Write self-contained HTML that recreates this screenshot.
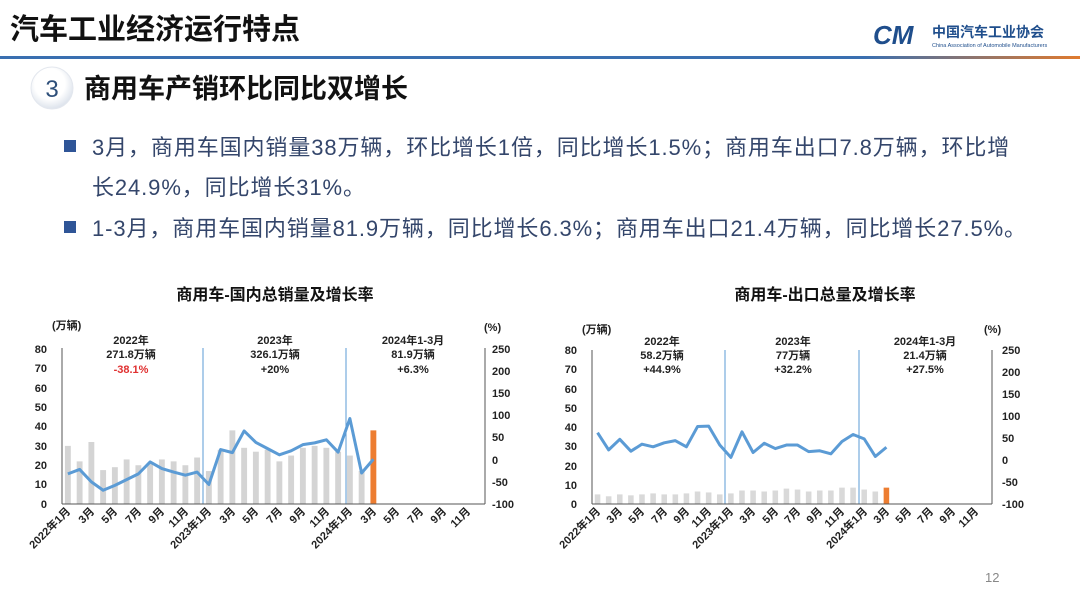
<!DOCTYPE html>
<html><head><meta charset="utf-8"><style>
body{margin:0;width:1080px;height:604px;background:#fff;overflow:hidden;font-family:"Liberation Sans","Noto Sans CJK SC",sans-serif;}
svg{display:block}
</style></head><body>
<svg width="1080" height="604" viewBox="0 0 1080 604" xmlns="http://www.w3.org/2000/svg" font-family="Liberation Sans, Noto Sans CJK SC, sans-serif">
<defs>
<linearGradient id="hl" x1="0" x2="1"><stop offset="0" stop-color="#3a6fb0"/><stop offset="0.8" stop-color="#3a6fb0"/><stop offset="1" stop-color="#e07a2e"/></linearGradient>
<radialGradient id="cg" cx="0.45" cy="0.4" r="0.6"><stop offset="0.6" stop-color="#fff"/><stop offset="1" stop-color="#dde3ec"/></radialGradient>
</defs>
<!-- header -->
<text x="10" y="39" font-size="29" font-weight="bold" fill="#111">汽车工业经济运行特点</text>
<rect x="0" y="56" width="1080" height="3" fill="url(#hl)"/>
<text x="873" y="44" font-size="26" font-weight="bold" fill="#1f4e8c" font-style="italic">CM</text>
<text x="932" y="37" font-size="14" font-weight="bold" fill="#1f4e8c">中国汽车工业协会</text>
<text x="932" y="47" font-size="5.5" fill="#1f4e8c">China Association of Automobile Manufacturers</text>
<circle cx="52" cy="88" r="21" fill="url(#cg)" stroke="#e3e7ee"/>
<text x="52" y="97" font-size="24" text-anchor="middle" fill="#2e4f7a">3</text>
<text x="84" y="98" font-size="27" font-weight="bold" fill="#111">商用车产销环比同比双增长</text>
<!-- bullets -->
<g font-size="22" fill="#34466b" letter-spacing="0.9">
<rect x="64" y="140" width="12" height="12" fill="#2f5597"/>
<text x="92" y="155">3月，商用车国内销量38万辆，环比增长1倍，同比增长1.5%；商用车出口7.8万辆，环比增</text>
<text x="92" y="195">长24.9%，同比增长31%。</text>
<rect x="64" y="221" width="12" height="12" fill="#2f5597"/>
<text x="92" y="236">1-3月，商用车国内销量81.9万辆，同比增长6.3%；商用车出口21.4万辆，同比增长27.5%。</text>
</g>
<text x="275" y="300" font-size="16" font-weight="bold" text-anchor="middle" fill="#111">商用车-国内总销量及增长率</text>
<text x="825" y="300" font-size="16" font-weight="bold" text-anchor="middle" fill="#111">商用车-出口总量及增长率</text>
<text x="985" y="582" font-size="13" fill="#888">12</text>

<!-- LEFT CHART -->
<g font-size="11" font-weight="bold" fill="#222">
<text x="52" y="329">(万辆)</text><text x="484" y="331">(%)</text>
<g text-anchor="end"><text x="47" y="353">80</text><text x="47" y="372">70</text><text x="47" y="392">60</text><text x="47" y="411">50</text><text x="47" y="430">40</text><text x="47" y="450">30</text><text x="47" y="469">20</text><text x="47" y="488">10</text><text x="47" y="508">0</text></g>
<g><text x="492" y="353">250</text><text x="492" y="375">200</text><text x="492" y="397">150</text><text x="492" y="419">100</text><text x="492" y="441">50</text><text x="492" y="464">0</text><text x="492" y="486">-50</text><text x="492" y="508">-100</text></g>
<g text-anchor="middle"><text x="131" y="344">2022年</text><text x="131" y="358">271.8万辆</text><text x="131" y="373" fill="#e03030">-38.1%</text>
<text x="275" y="344">2023年</text><text x="275" y="358">326.1万辆</text><text x="275" y="373">+20%</text>
<text x="413" y="344">2024年1-3月</text><text x="413" y="358">81.9万辆</text><text x="413" y="373">+6.3%</text></g>
</g>
<g transform="translate(62,504) scale(11.75,-1.9375)" fill="#d4d4d4">
<rect x="0.25" width="0.5" height="30"/><rect x="1.25" width="0.5" height="22"/><rect x="2.25" width="0.5" height="32"/><rect x="3.25" width="0.5" height="17.5"/><rect x="4.25" width="0.5" height="19"/><rect x="5.25" width="0.5" height="23"/><rect x="6.25" width="0.5" height="20"/><rect x="7.25" width="0.5" height="21"/><rect x="8.25" width="0.5" height="23"/><rect x="9.25" width="0.5" height="22"/><rect x="10.25" width="0.5" height="20"/><rect x="11.25" width="0.5" height="24"/>
<rect x="12.25" width="0.5" height="17"/><rect x="13.25" width="0.5" height="28"/><rect x="14.25" width="0.5" height="38"/><rect x="15.25" width="0.5" height="29"/><rect x="16.25" width="0.5" height="27"/><rect x="17.25" width="0.5" height="28"/><rect x="18.25" width="0.5" height="22"/><rect x="19.25" width="0.5" height="25"/><rect x="20.25" width="0.5" height="29"/><rect x="21.25" width="0.5" height="30"/><rect x="22.25" width="0.5" height="29"/><rect x="23.25" width="0.5" height="27"/>
<rect x="24.25" width="0.5" height="25"/><rect x="25.25" width="0.5" height="17"/><rect x="26.25" width="0.5" height="38" fill="#ed7d31"/>
</g>
<g stroke-width="1">
<line x1="203" y1="348" x2="203" y2="504" stroke="#5b9bd5"/><line x1="346" y1="348" x2="346" y2="504" stroke="#5b9bd5"/>
<line x1="62" y1="348" x2="62" y2="504" stroke="#555"/><line x1="62" y1="504" x2="485" y2="504" stroke="#555"/><line x1="485" y1="348" x2="485" y2="504" stroke="#555"/>
</g>
<g transform="translate(62,504) scale(11.75,-0.4429) translate(0,100)">
<polyline fill="none" stroke="#5b9bd5" stroke-width="3" vector-effect="non-scaling-stroke" stroke-linejoin="round" points="0.5,-32 1.5,-22 2.5,-50 3.5,-69 4.5,-58 5.5,-45 6.5,-32 7.5,-5 8.5,-20 9.5,-28 10.5,-35 11.5,-28 12.5,-56 13.5,23 14.5,16 15.5,65 16.5,39 17.5,25 18.5,11 19.5,20 20.5,34 21.5,38 22.5,45 23.5,17 24.5,93 25.5,-30 26.5,1"/>
</g>
<g font-size="11" font-weight="bold" fill="#222" text-anchor="end">
<text transform="translate(71,512) rotate(-45)">2022年1月</text><text transform="translate(95,512) rotate(-45)">3月</text><text transform="translate(118,512) rotate(-45)">5月</text><text transform="translate(142,512) rotate(-45)">7月</text><text transform="translate(165,512) rotate(-45)">9月</text><text transform="translate(189,512) rotate(-45)">11月</text>
<text transform="translate(212,512) rotate(-45)">2023年1月</text><text transform="translate(236,512) rotate(-45)">3月</text><text transform="translate(259,512) rotate(-45)">5月</text><text transform="translate(283,512) rotate(-45)">7月</text><text transform="translate(306,512) rotate(-45)">9月</text><text transform="translate(330,512) rotate(-45)">11月</text>
<text transform="translate(353,512) rotate(-45)">2024年1月</text><text transform="translate(377,512) rotate(-45)">3月</text><text transform="translate(400,512) rotate(-45)">5月</text><text transform="translate(424,512) rotate(-45)">7月</text><text transform="translate(447,512) rotate(-45)">9月</text><text transform="translate(471,512) rotate(-45)">11月</text>
</g>

<!-- RIGHT CHART -->
<g font-size="11" font-weight="bold" fill="#222">
<text x="582" y="333">(万辆)</text><text x="984" y="333">(%)</text>
<g text-anchor="end"><text x="577" y="354">80</text><text x="577" y="373">70</text><text x="577" y="393">60</text><text x="577" y="412">50</text><text x="577" y="431">40</text><text x="577" y="450">30</text><text x="577" y="470">20</text><text x="577" y="489">10</text><text x="577" y="508">0</text></g>
<g><text x="1002" y="354">250</text><text x="1002" y="376">200</text><text x="1002" y="398">150</text><text x="1002" y="420">100</text><text x="1002" y="442">50</text><text x="1002" y="464">0</text><text x="1002" y="486">-50</text><text x="1002" y="508">-100</text></g>
<g text-anchor="middle"><text x="662" y="345">2022年</text><text x="662" y="359">58.2万辆</text><text x="662" y="373">+44.9%</text>
<text x="793" y="345">2023年</text><text x="793" y="359">77万辆</text><text x="793" y="373">+32.2%</text>
<text x="925" y="345">2024年1-3月</text><text x="925" y="359">21.4万辆</text><text x="925" y="373">+27.5%</text></g>
</g>
<g transform="translate(592,504) scale(11.11,-1.925)" fill="#d9d9d9">
<rect x="0.25" width="0.5" height="5"/><rect x="1.25" width="0.5" height="4"/><rect x="2.25" width="0.5" height="5"/><rect x="3.25" width="0.5" height="4.5"/><rect x="4.25" width="0.5" height="5"/><rect x="5.25" width="0.5" height="5.5"/><rect x="6.25" width="0.5" height="5"/><rect x="7.25" width="0.5" height="5"/><rect x="8.25" width="0.5" height="5.5"/><rect x="9.25" width="0.5" height="6.5"/><rect x="10.25" width="0.5" height="6"/><rect x="11.25" width="0.5" height="5"/>
<rect x="12.25" width="0.5" height="5.5"/><rect x="13.25" width="0.5" height="7"/><rect x="14.25" width="0.5" height="7"/><rect x="15.25" width="0.5" height="6.5"/><rect x="16.25" width="0.5" height="7"/><rect x="17.25" width="0.5" height="8"/><rect x="18.25" width="0.5" height="7.5"/><rect x="19.25" width="0.5" height="6.5"/><rect x="20.25" width="0.5" height="7"/><rect x="21.25" width="0.5" height="7"/><rect x="22.25" width="0.5" height="8.5"/><rect x="23.25" width="0.5" height="8.5"/>
<rect x="24.25" width="0.5" height="7.5"/><rect x="25.25" width="0.5" height="6.5"/><rect x="26.25" width="0.5" height="8.5" fill="#ed7d31"/>
</g>
<g stroke-width="1">
<line x1="725" y1="350" x2="725" y2="504" stroke="#5b9bd5"/><line x1="859" y1="350" x2="859" y2="504" stroke="#5b9bd5"/>
<line x1="592" y1="350" x2="592" y2="504" stroke="#555"/><line x1="592" y1="504" x2="992" y2="504" stroke="#555"/><line x1="992" y1="350" x2="992" y2="504" stroke="#555"/>
</g>
<g transform="translate(592,504) scale(11.11,-0.44) translate(0,100)">
<polyline fill="none" stroke="#5b9bd5" stroke-width="3" vector-effect="non-scaling-stroke" stroke-linejoin="round" points="0.5,62 1.5,23 2.5,47 3.5,20 4.5,36 5.5,30 6.5,39 7.5,44 8.5,30 9.5,76 10.5,77 11.5,34 12.5,6 13.5,64 14.5,17 15.5,38 16.5,26 17.5,34 18.5,34 19.5,19 20.5,21 21.5,14 22.5,42 23.5,58 24.5,48 25.5,8 26.5,29"/>
</g>
<g font-size="11" font-weight="bold" fill="#222" text-anchor="end">
<text transform="translate(601,512) rotate(-45)">2022年1月</text><text transform="translate(623,512) rotate(-45)">3月</text><text transform="translate(645,512) rotate(-45)">5月</text><text transform="translate(668,512) rotate(-45)">7月</text><text transform="translate(690,512) rotate(-45)">9月</text><text transform="translate(712,512) rotate(-45)">11月</text>
<text transform="translate(734,512) rotate(-45)">2023年1月</text><text transform="translate(756,512) rotate(-45)">3月</text><text transform="translate(779,512) rotate(-45)">5月</text><text transform="translate(801,512) rotate(-45)">7月</text><text transform="translate(823,512) rotate(-45)">9月</text><text transform="translate(845,512) rotate(-45)">11月</text>
<text transform="translate(868,512) rotate(-45)">2024年1月</text><text transform="translate(890,512) rotate(-45)">3月</text><text transform="translate(912,512) rotate(-45)">5月</text><text transform="translate(934,512) rotate(-45)">7月</text><text transform="translate(956,512) rotate(-45)">9月</text><text transform="translate(979,512) rotate(-45)">11月</text>
</g>
</svg>
</body></html>
